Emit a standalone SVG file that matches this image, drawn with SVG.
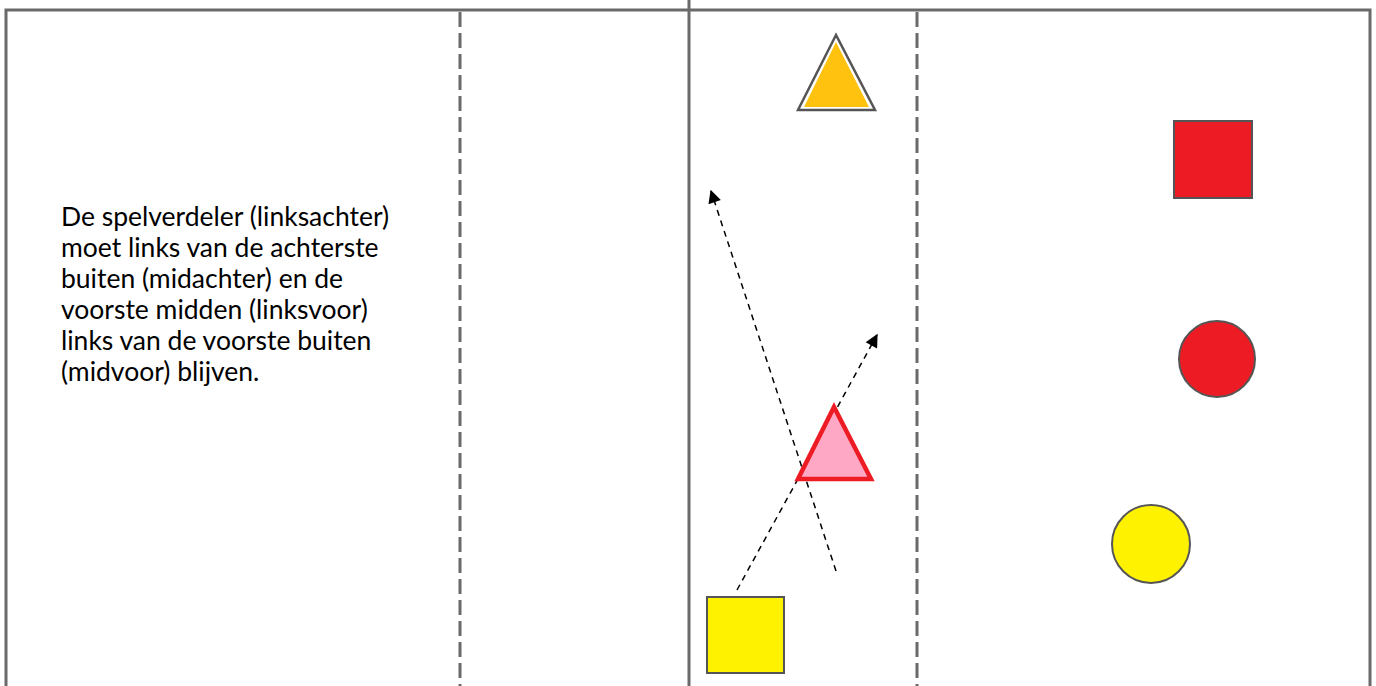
<svg xmlns="http://www.w3.org/2000/svg" width="1376" height="686" viewBox="0 0 1376 686">
<defs>
<style>
.frame{fill:none;stroke:#6a6a6a;stroke-width:3}
.div{fill:none;stroke:#6a6a6a;stroke-width:3;stroke-dasharray:15 6}
.mv{fill:none;stroke:#000;stroke-width:1.5;stroke-dasharray:6 5}
.txt{font-family:Lato,"Open Sans","Liberation Sans",sans-serif;font-size:26.5px;fill:#000}
</style>
<marker id="ah" viewBox="0 0 10 10" refX="9" refY="5" markerWidth="15" markerHeight="13" markerUnits="userSpaceOnUse" orient="auto"><path d="M0,0 L10,5 L0,10 Z" fill="#000"/></marker>
</defs>
<rect width="1376" height="686" fill="#fff"/>
<g id="field">
<path class="frame" d="M6,690 V10 H1370 V690"/>
<line class="frame" x1="689" y1="0" x2="689" y2="686"/>
<line class="div" x1="460" y1="12" x2="460" y2="686"/>
<line class="div" x1="917" y1="12" x2="917" y2="686"/>
</g>
<g id="label">
<text class="txt" x="61" y="226">De spelverdeler (linksachter)</text>
<text class="txt" x="61" y="257">moet links van de achterste</text>
<text class="txt" x="61" y="288">buiten (midachter) en de</text>
<text class="txt" x="61" y="319">voorste midden (linksvoor)</text>
<text class="txt" x="61" y="350">links van de voorste buiten</text>
<text class="txt" x="61" y="381">(midvoor) blijven.</text>
</g>
<g id="connectors">
<line class="mv" x1="836" y1="571" x2="711" y2="191" marker-end="url(#ah)"/>
<line class="mv" x1="737" y1="590" x2="877" y2="335" marker-end="url(#ah)"/>
</g>
<g id="yellow-triangle">
<polygon points="836,35 798,110 875,110" fill="#fff" stroke="#555" stroke-width="2.5"/>
<polygon points="836,42 804,107 869,107" fill="#FFC20E"/>
</g>
<g id="pink-triangle">
<polygon points="834,407 798,479 871,479" fill="#FFA8C5" stroke="#ED1C24" stroke-width="4.5" stroke-linejoin="miter"/>
</g>
<g id="yellow-square">
<rect x="707" y="597" width="77" height="76" fill="#FFF200" stroke="#555" stroke-width="2"/>
</g>
<g id="red-square">
<rect x="1174" y="121" width="78" height="77" fill="#ED1C24" stroke="#555" stroke-width="2"/>
</g>
<g id="red-circle">
<circle cx="1217" cy="359" r="38" fill="#ED1C24" stroke="#555" stroke-width="2"/>
</g>
<g id="yellow-circle">
<circle cx="1151" cy="544" r="39" fill="#FFF200" stroke="#555" stroke-width="2"/>
</g>
</svg>
